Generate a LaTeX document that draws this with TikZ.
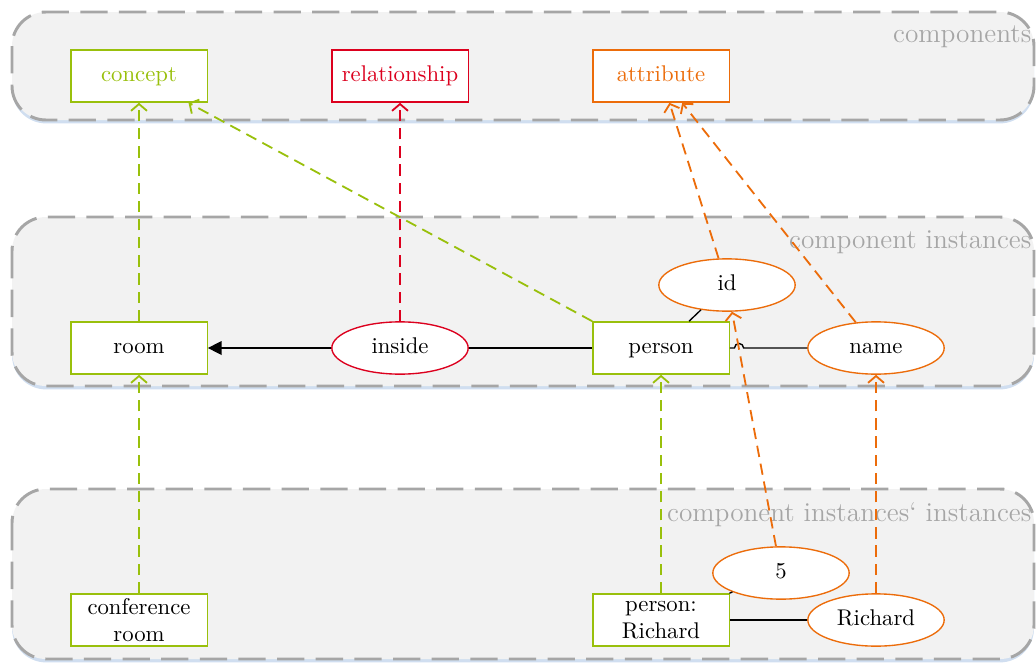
\documentclass[tikz,border=0pt]{standalone}
\usepackage{tikz}
\usetikzlibrary{arrows.meta}
\usetikzlibrary{shapes.geometric}
\usetikzlibrary{shadows}

\definecolor{cgreen}{RGB}{153,192,12}
\definecolor{cred}{RGB}{220,0,30}
\definecolor{corange}{RGB}{236,108,10}
\definecolor{cgray}{RGB}{166,166,166}
\definecolor{cpanel}{RGB}{242,242,242}
\definecolor{cshadow}{RGB}{196,214,236}

\begin{document}
\begin{tikzpicture}[x=0.44pt, y=-0.44pt,
    panel/.style={draw=cgray, fill=cpanel, line width=1.3pt, dash pattern=on 12pt off 5pt,
        rounded corners=15pt, drop shadow={shadow xshift=0pt, shadow yshift=-1.5pt, fill=cshadow, opacity=0.8}},
    paneltext/.style={text=cgray, font=\large, anchor=east, inner sep=1pt},
    box/.style={draw=cgreen, fill=white, line width=0.6pt, minimum width=60pt, minimum height=23pt,
        inner sep=1pt, text height=1.5ex, text depth=0.3ex},
    twoline/.style={align=center, text height={}, text depth={}},
    oval/.style={ellipse, fill=white, line width=0.6pt, minimum width=60pt, minimum height=23pt,
        inner sep=1pt, text height=1.5ex, text depth=0.3ex},
    link/.style={line width=0.6pt},
    inst/.style={line width=0.8pt, dash pattern=on 5pt off 3pt, -{Straight Barb[length=3pt, width=7pt]}}]

\useasboundingbox (0,0) rectangle (1036,664);

% panels
\draw[panel] (12,12) rectangle (1034,120);
\draw[panel] (12,217) rectangle (1034,386);
\draw[panel] (12,489) rectangle (1034,659);
\node[paneltext] (lcomp) at (1034,37) {components};
\node[paneltext] (linst) at (1034,242) {component instances};
\node[paneltext] (linstinst) at (1034,515) {component instances‘ instances};

% components
\node[box, text=cgreen] (concept) at (139,76) {concept};
\node[box, draw=cred, text=cred] (relationship) at (400,76) {relationship};
\node[box, draw=corange, text=corange] (attribute) at (661,76) {attribute};

% component instances
\node[box] (room) at (139,348) {room};
\node[oval, draw=cred] (inside) at (400,348) {inside};
\node[box] (person) at (661,348) {person};
\node[oval, draw=corange] (id) at (727,285) {id};
\node[oval, draw=corange] (name) at (876,348) {name};

% component instances' instances
\node[box, twoline] (confroom) at (139,620) {conference\\room};
\node[box, twoline] (personrichard) at (661,620) {person:\\Richard};
\node[oval, draw=corange] (five) at (781,573) {5};
\node[oval, draw=corange] (richard) at (876,620) {Richard};

% links
\draw[link, -{Triangle[length=6pt, width=6pt]}] (inside) -- (room);
\draw[link] (inside) -- (person);
\draw[link] (person) -- (id);
\draw[link] (person.east) -- (734.5,348) arc[start angle=180, end angle=0, radius=2pt] -- (name.west);
\draw[link] (personrichard) -- (five);
\draw[link] (personrichard) -- (richard);

% instance of
\draw[inst, cgreen] (room) -- (concept);
\draw[inst, cgreen] (person.north west) -- (concept);
\draw[inst, cred] (inside) -- (relationship);
\draw[inst, corange] (id) -- (attribute);
\draw[inst, corange] (name) -- (attribute);
\draw[inst, corange] (five) -- (id);
\draw[inst, corange] (richard) -- (name);
\draw[inst, cgreen] (confroom) -- (room);
\draw[inst, cgreen] (personrichard) -- (person);

\end{tikzpicture}
\end{document}
